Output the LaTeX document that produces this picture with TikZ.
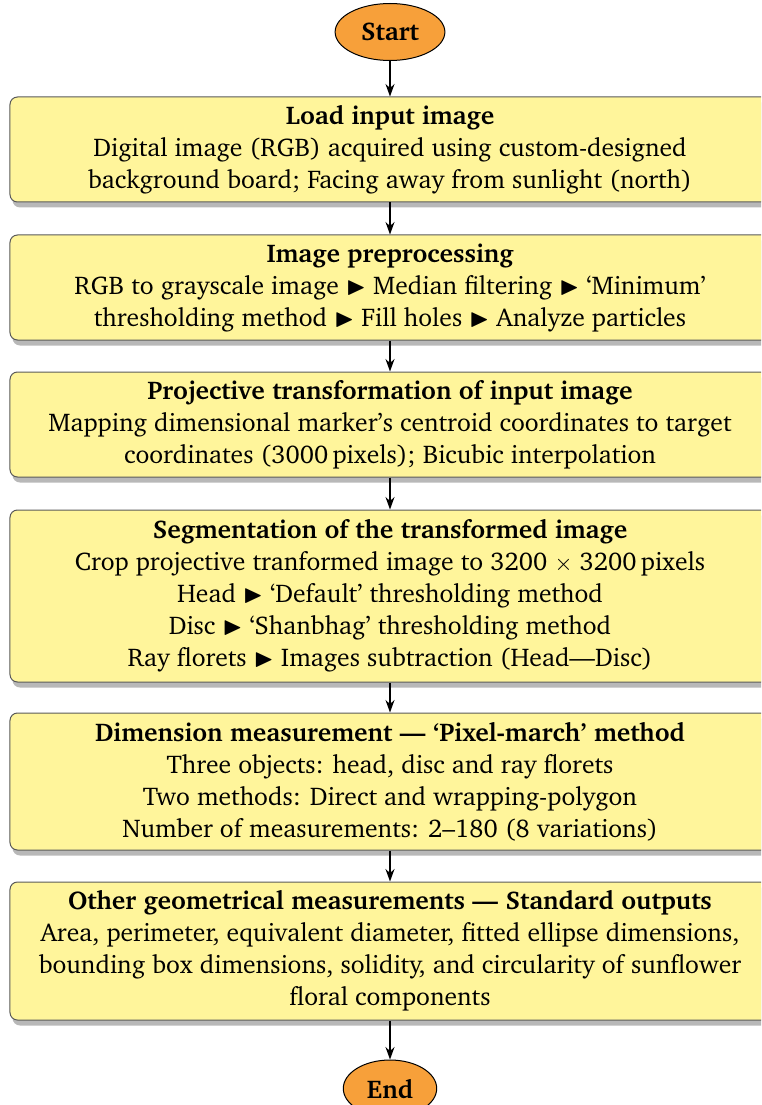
\documentclass[tikz,border=0pt]{standalone}
\usepackage[T1]{fontenc}
\usepackage{charter}
\usepackage{amssymb}
\usetikzlibrary{shapes.geometric,shadows,arrows.meta}
\definecolor{boxfill}{RGB}{255,245,155}
\definecolor{termfill}{RGB}{247,160,58}
\definecolor{boxline}{RGB}{90,90,90}
\newcommand{\tri}{$\blacktriangleright$}
\begin{document}
\begin{tikzpicture}[x=0.4pt,y=-0.4pt,
  stepbox/.style={draw=boxline, line width=0.4pt, fill=boxfill, rounded corners=3pt,
    minimum width=304pt, align=center, inner sep=0pt,
    font=\fontsize{10.25}{12.8}\selectfont,
    drop shadow={shadow xshift=1pt, shadow yshift=-2.2pt, fill=black!28, opacity=1}},
  term/.style={ellipse, draw=black, line width=0.4pt, fill=termfill,
    font=\fontsize{10.25}{12}\selectfont\bfseries, minimum height=22.8pt, inner xsep=4pt},
  arr/.style={-{Stealth[length=5pt,width=3.6pt]}, line width=0.5pt}
]
\useasboundingbox (0,0) rectangle (761,1105);
\clip (0,0) rectangle (761,1105);

\node[term] (start) at (390,32) {Start};

\node[stepbox, minimum height=42pt] (b1) at (390,149.5)
  {{\bfseries Load input image}\\
   Digital image (RGB) acquired using custom-designed\\
   background board; Facing away from sunlight (north)};

\node[stepbox, minimum height=42pt] (b2) at (390,287.5)
  {{\bfseries Image preprocessing}\\
   RGB to grayscale image \tri{} Median filtering \tri{} `Minimum'\\
   thresholding method \tri{} Fill holes \tri{} Analyze particles};

\node[stepbox, minimum height=42pt] (b3) at (390,424.5)
  {{\bfseries Projective transformation of input image}\\
   Mapping dimensional marker's centroid coordinates to target\\
   coordinates (3000\,pixels); Bicubic interpolation};

\node[stepbox, minimum height=68.8pt] (b4) at (390,596)
  {{\bfseries Segmentation of the transformed image}\\
   Crop projective tranformed image to 3200 {\small$\times$} 3200\,pixels\\
   Head \tri{} `Default' thresholding method\\
   Disc \tri{} `Shanbhag' thresholding method\\
   Ray florets \tri{} Images subtraction (Head---Disc)};

\node[stepbox, minimum height=54.8pt] (b5) at (390,781.5)
  {{\bfseries Dimension measurement --- `Pixel-march' method}\\
   Three objects: head, disc and ray florets\\
   Two methods: Direct and wrapping-polygon\\
   Number of measurements: 2--180 (8 variations)};

\node[stepbox, minimum height=55.2pt] (b6) at (390,951)
  {{\bfseries Other geometrical measurements --- Standard outputs}\\
   Area, perimeter, equivalent diameter, fitted ellipse dimensions,\\
   bounding box dimensions, solidity, and circularity of sunflower\\
   floral components};

\node[term] (end) at (390,1088.5) {End};

\draw[arr] (start) -- (b1);
\draw[arr] (b1) -- (b2);
\draw[arr] (b2) -- (b3);
\draw[arr] (b3) -- (b4);
\draw[arr] (b4) -- (b5);
\draw[arr] (b5) -- (b6);
\draw[arr] (b6) -- (end);
\end{tikzpicture}
\end{document}
